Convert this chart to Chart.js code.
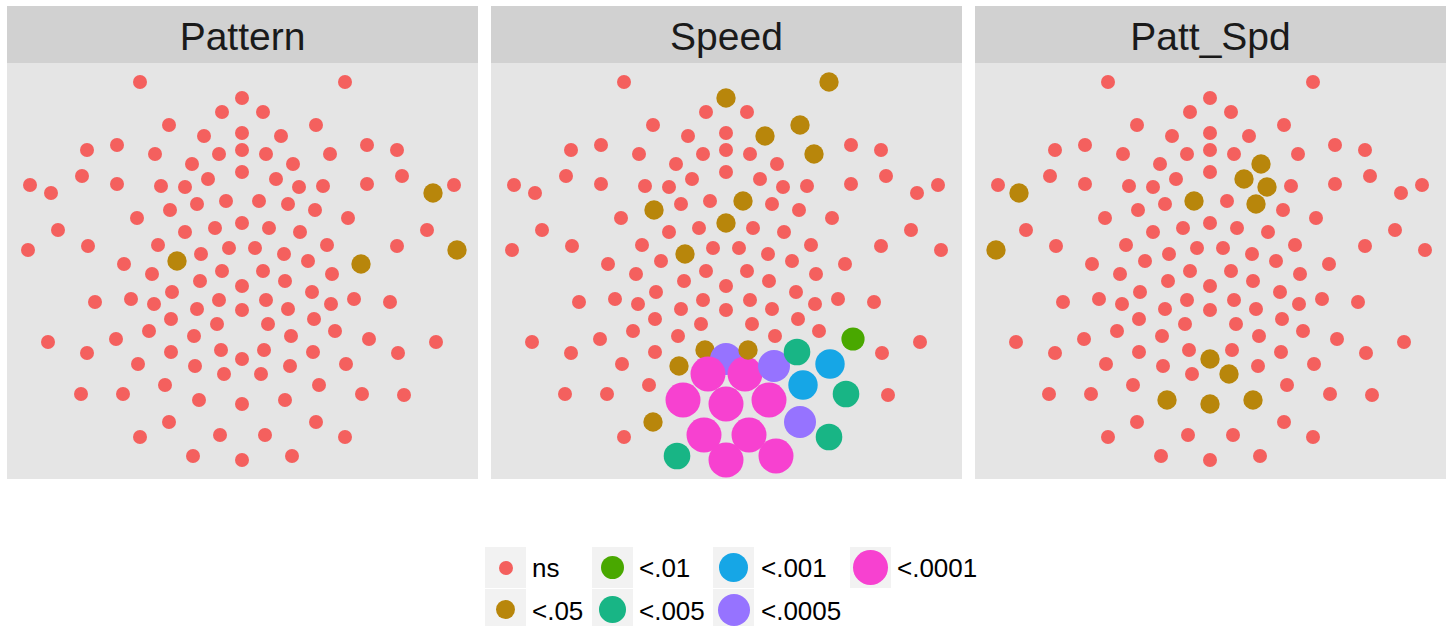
<!DOCTYPE html>
<html>
<head>
<meta charset="utf-8">
<title>Electrode significance maps</title>
<script src="https://cdn.jsdelivr.net/npm/chart.js@4.4.1/dist/chart.umd.min.js"></script>
<style>
  html, body { margin: 0; padding: 0; background: #ffffff; }
  body {
    width: 1450px; height: 626px; overflow: hidden; position: relative;
    font-family: "Liberation Sans", Arial, Helvetica, sans-serif;
  }
  .strip {
    position: absolute; top: 6px; height: 57px; width: 471px;
    background: #D1D1D1; color: #1A1A1A;
    font-size: 39px; line-height: 61px; text-align: center; overflow: hidden;
  }
  .panel { position: absolute; top: 63px; width: 471px; height: 416px; background: #E5E5E5; }
  .panel canvas { display: block; }
  .key { position: absolute; width: 41px; height: 41px; background: #F2F2F2; }
  .dot { position: absolute; border-radius: 50%; }
  .lab { position: absolute; font-size: 26px; line-height: 26px; color: #000; white-space: nowrap; }
</style>
</head>
<body>
<script>
// Flattened 128-channel scalp layout (x: left→right, y: posterior→anterior is down→up)
const elecX = [
  -102, 103, 0, -20, 21, -73, 74, 0, -38, 39,
  -125, 125, -155, 0, 155, -87, -23, 24, 88, -50,
  51, 0, -160, 160, -34, 34, -125, 125, -212, 212,
  -81, 81, -57, 57, -191, 191, -16, 17, -45, 46,
  -72, 73, -105, 106, 0, -27, 27, -184, 185, -57,
  58, -84, 85, -154, 155, -13, 13, -214, 215, -41,
  42, -65, 66, -118, 119, -20, 21, -90, 90, -42,
  43, 0, -70, 70, -111, 112, -23, 24, -147, 148,
  -88, 89, -45, 46, 0, -71, 72, -25, 26, -93,
  93, -48, 49, -126, 127, -194, 194, -21, -71, -155,
  156, 0, -104, 104, -47, -18, 19, 48, 22, 71,
  -77, 77, -161, -119, 120, 162, -43, 43, 0, -73,
  74, -22, 23, -102, 103, -49, 50, 0
];
const elecY = [
  189, 189, 173, 159, 159, 146, 146, 138, 135, 135,
  126, 126, 121, 121, 121, 117, 117, 117, 117, 107,
  107, 99, 95, 95, 92, 92, 87, 87, 86, 86,
  85, 85, 84, 84, 78, 78, 70, 70, 67, 67,
  61, 61, 53, 53, 48, 43, 43, 41, 41, 39,
  39, 26, 26, 25, 25, 23, 23, 21, 21, 17,
  17, 10, 10, 7, 7, 0, 0, -3, -3, -10,
  -10, -15, -21, -21, -28, -28, -29, -29, -31, -31,
  -33, -33, -38, -38, -39, -48, -48, -53, -53, -60,
  -60, -65, -65, -68, -68, -71, -71, -79, -81, -82,
  -82, -88, -93, -93, -95, -103, -103, -95, -79, -81,
  -114, -114, -123, -123, -123, -124, -129, -129, -133, -151,
  -151, -164, -164, -166, -166, -185, -185, -189
];

// Significance classes
const levels = ['ns', '<.05', '<.01', '<.005', '<.001', '<.0005', '<.0001'];

// Facet titles
const panelTitles = ['Pattern', 'Speed', 'Patt_Spd'];

// Non-ns channels per effect (1-based channel numbers) and their class
const patternCh = [36, 59, 62, 65];
const patternLv = ['<.05', '<.05', '<.05', '<.05'];

const speedCh = [2, 3, 7, 10, 19, 38, 41, 45, 60, 98, 109, 105, 120,
                 95,
                 110, 115, 125, 126,
                 104, 112,
                 102, 108, 121,
                 106, 107, 117, 118, 119, 122, 123, 127, 128];
const speedLv = ['<.05', '<.05', '<.05', '<.05', '<.05', '<.05', '<.05', '<.05', '<.05', '<.05', '<.05', '<.05', '<.05',
                 '<.01',
                 '<.005', '<.005', '<.005', '<.005',
                 '<.001', '<.001',
                 '<.0005', '<.0005', '<.0005',
                 '<.0001', '<.0001', '<.0001', '<.0001', '<.0001', '<.0001', '<.0001', '<.0001', '<.0001'];

const pattSpdCh = [35, 58, 21, 26, 34, 40, 37, 102, 107, 117, 119, 118];
const pattSpdLv = ['<.05', '<.05', '<.05', '<.05', '<.05', '<.05', '<.05', '<.05', '<.05', '<.05', '<.05', '<.05'];

// Styling per class
const levelColor  = ['#F4605E', '#B8860B', '#49A800', '#18B585', '#16A6E6', '#9673FF', '#F741D0'];
const levelRadius = [7, 9.7, 11.6, 13.3, 14.7, 16, 17.5];

// Layout of the three facets
const panelLeft = [7, 491, 975];
const panelW = 471, panelH = 416;

const effects = [
  { ch: patternCh, lv: patternLv },
  { ch: speedCh,   lv: speedLv },
  { ch: pattSpdCh, lv: pattSpdLv }
];

effects.forEach((eff, p) => {
  const strip = document.createElement('div');
  strip.className = 'strip';
  strip.style.left = panelLeft[p] + 'px';
  strip.textContent = panelTitles[p];
  document.body.appendChild(strip);

  const holder = document.createElement('div');
  holder.className = 'panel';
  holder.style.left = panelLeft[p] + 'px';
  const cv = document.createElement('canvas');
  cv.width = panelW; cv.height = panelH;
  holder.appendChild(cv);
  document.body.appendChild(holder);

  const cls = elecX.map(() => 0);
  eff.ch.forEach((c, i) => { cls[c - 1] = levels.indexOf(eff.lv[i]); });

  new Chart(cv, {
    type: 'scatter',
    data: {
      datasets: [{
        data: elecX.map((x, i) => ({ x: x, y: elecY[i] })),
        pointBackgroundColor: cls.map(k => levelColor[k]),
        pointHoverBackgroundColor: cls.map(k => levelColor[k]),
        pointRadius: cls.map(k => levelRadius[k]),
        pointHoverRadius: cls.map(k => levelRadius[k]),
        pointBorderWidth: 0,
        pointHoverBorderWidth: 0,
        showLine: false,
        clip: false
      }]
    },
    options: {
      responsive: false,
      animation: false,
      layout: { padding: 0, autoPadding: false },
      plugins: { legend: { display: false }, tooltip: { enabled: true } },
      scales: {
        x: { type: 'linear', min: -235, max: 236, display: false },
        y: { type: 'linear', min: -208, max: 208, display: false }
      }
    }
  });
});

// Legend: four columns filled top-to-bottom
const keyColLeft = [485, 592, 713, 850];
const keyRowTop = [547, 589];
const labelColLeft = [532, 639, 761, 897];
const labelRowTop = [555, 598];
levels.forEach((name, k) => {
  const col = Math.floor(k / 2), row = k % 2;
  const key = document.createElement('div');
  key.className = 'key';
  key.style.left = keyColLeft[col] + 'px';
  key.style.top = keyRowTop[row] + 'px';
  const d = document.createElement('div');
  d.className = 'dot';
  const r = levelRadius[k];
  d.style.width = (2 * r) + 'px';
  d.style.height = (2 * r) + 'px';
  d.style.left = (20.5 - r) + 'px';
  d.style.top = (20.5 - r) + 'px';
  d.style.background = levelColor[k];
  key.appendChild(d);
  document.body.appendChild(key);

  const lab = document.createElement('div');
  lab.className = 'lab';
  lab.style.left = labelColLeft[col] + 'px';
  lab.style.top = labelRowTop[row] + 'px';
  lab.textContent = name;
  document.body.appendChild(lab);
});
</script>
</body>
</html>
